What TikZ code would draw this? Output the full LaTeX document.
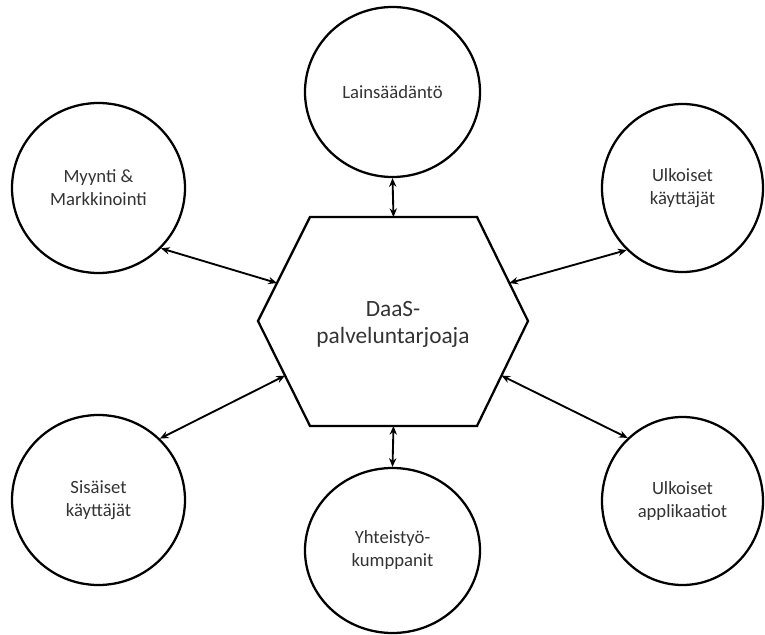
\documentclass[tikz,border=0pt]{standalone}
\usepackage{fontspec}
\setmainfont{Carlito}
\usetikzlibrary{shapes.geometric,arrows.meta,calc}
\begin{document}
\begin{tikzpicture}[x=0.75pt,y=-0.75pt,
  party/.style 2 args={ellipse, draw=black, line width=1.7pt, inner sep=0pt,
    minimum width=#1*0.75pt, minimum height=#2*0.75pt, align=center,
    font=\fontsize{14}{17.25}\selectfont, text=black!80},
  hubtext/.style={align=center, font=\fontsize{17.5}{20.25}\selectfont, text=black!80},
  hexline/.style={draw=black, line width=1.7pt, line join=miter},
  link/.style={{Stealth[length=6.5pt,width=5.5pt]}-{Stealth[length=6.5pt,width=5.5pt]}, line width=1.4pt}
]
\useasboundingbox (0,0) rectangle (765,635);

% central hexagon
\coordinate (hL)  at (258,321);
\coordinate (hTL) at (310,217);
\coordinate (hTR) at (477,217);
\coordinate (hR)  at (528,321);
\coordinate (hBR) at (477,426);
\coordinate (hBL) at (310,426);
\draw[hexline] (hL) -- (hTL) -- (hTR) -- (hR) -- (hBR) -- (hBL) -- cycle;
\node[hubtext] (hub) at (393,324) {DaaS-\\palveluntarjoaja};

% surrounding stakeholders
\node[party={175}{170}] (law)   at (392.5,92)   {Lainsäädäntö};
\node[party={173}{170}] (sales) at (98.5,188)   {Myynti \&\\Markkinointi};
\node[party={161}{168}] (extu)  at (682.5,188)  {Ulkoiset\\käyttäjät};
\node[party={173}{170}] (intu)  at (98.5,500)   {Sisäiset\\käyttäjät};
\node[party={161}{168}] (exta)  at (682.5,501)  {Ulkoiset\\applikaatiot};
\node[party={175}{165}] (part)  at (392.5,550.5){Yhteistyö-\\kumppanit};

% connector ends on the hexagon border
\coordinate (eT)  at ($(hTL)!0.5!(hTR)$);
\coordinate (eB)  at ($(hBL)!0.5!(hBR)$);
\coordinate (eLT) at ($(hL)!0.365!(hTL)$);
\coordinate (eRT) at ($(hR)!0.365!(hTR)$);
\coordinate (eLB) at ($(hL)!0.52!(hBL)$);
\coordinate (eRB) at ($(hR)!0.52!(hBR)$);

% two-way links
\draw[link] (law.south) -- (eT);
\draw[link] (part.north) -- (eB);
\draw[link] (sales.-44) -- (eLT);
\draw[link] (extu.-132) -- (eRT);
\draw[link] (intu.45) -- (eLB);
\draw[link] (exta.131) -- (eRB);
\end{tikzpicture}
\end{document}
